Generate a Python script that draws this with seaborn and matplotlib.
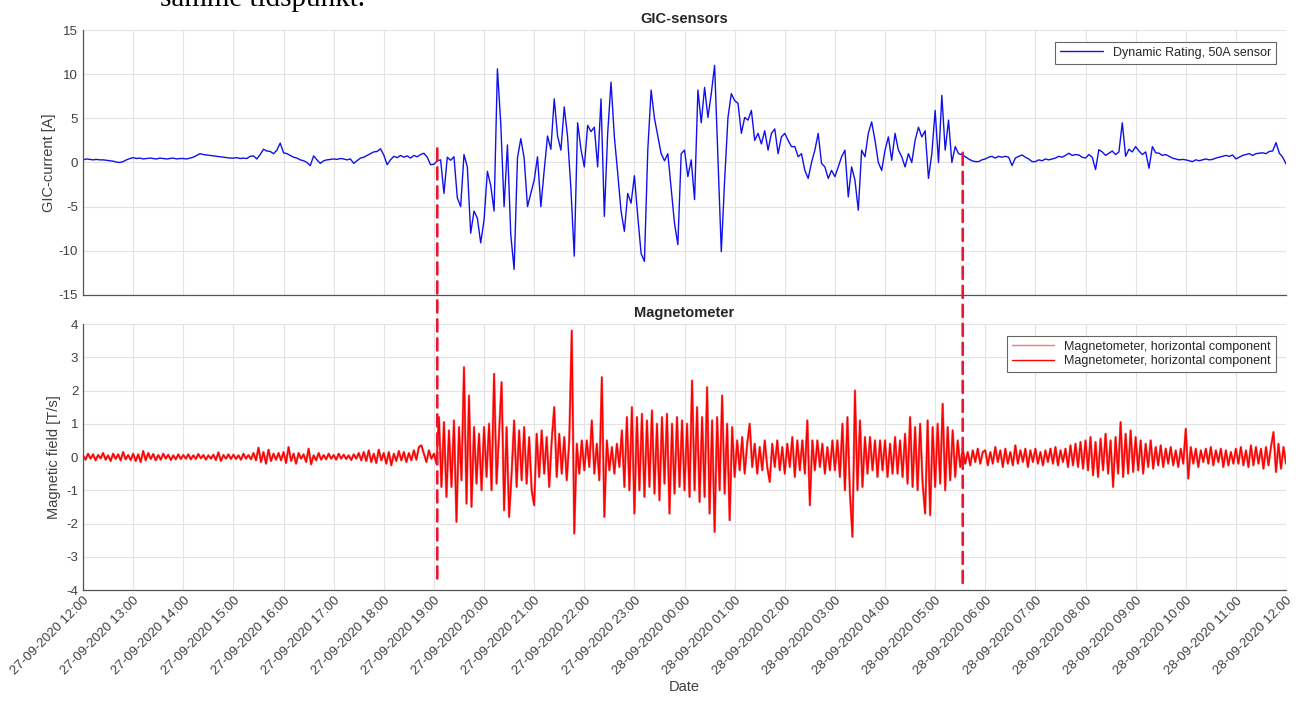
"""GIC-sensor current and magnetometer rate of change, 27-28 Sep 2020."""
import matplotlib
matplotlib.use("Agg")
import matplotlib.pyplot as plt
import matplotlib.dates as mdates
from matplotlib.patches import ConnectionPatch
import numpy as np
import pandas as pd
import seaborn as sns

# GIC current [A], one value every 4 minutes from 27-09-2020 12:00 (15 per hour)
gic_current = [
    # 12:00
    0.3, 0.4, 0.35, 0.3, 0.35, 0.3, 0.3, 0.25, 0.2, 0.15, 0.05, 0.0, 0.1, 0.3, 0.45,
    # 13:00
    0.55, 0.45, 0.5, 0.4, 0.45, 0.5, 0.45, 0.4, 0.5, 0.45, 0.4, 0.45, 0.5, 0.4, 0.45,
    # 14:00
    0.45, 0.4, 0.5, 0.6, 0.8, 1.0, 0.9, 0.85, 0.8, 0.75, 0.7, 0.65, 0.6, 0.55, 0.5,
    # 15:00
    0.5, 0.55, 0.45, 0.5, 0.45, 0.7, 0.75, 0.4, 0.9, 1.5, 1.3, 1.25, 1.0, 1.4, 2.2,
    # 16:00
    1.1, 1.0, 0.8, 0.6, 0.5, 0.3, 0.2, 0.0, -0.35, 0.75, 0.3, -0.1, 0.2, 0.3, 0.35,
    # 17:00
    0.4, 0.35, 0.45, 0.4, 0.3, 0.4, -0.1, 0.2, 0.5, 0.6, 0.8, 1.0, 1.2, 1.25, 1.55,
    # 18:00
    0.85, -0.25, 0.3, 0.7, 0.55, 0.8, 0.6, 0.75, 0.5, 0.8, 0.65, 0.9, 1.05, 0.6, -0.25,
    # 19:00
    -0.2, 0.2, 0.3, -3.5, 0.6, 0.25, 0.65, -4.0, -5.0, 0.9, -0.5, -8.0, -5.5, -6.3, -9.1,
    # 20:00
    -6.5, -1.0, -2.6, -5.5, 10.6, 4.4, -5.0, 2.0, -8.2, -12.1, 0.5, 2.7, 0.5, -5.0, -3.5,
    # 21:00
    -2.0, 0.65, -5.0, -0.9, 3.0, 1.5, 7.2, 3.0, 1.4, 6.3, 2.9, -3.0, -10.6, 4.5, 1.5,
    # 22:00
    -0.5, 4.2, 3.5, 4.0, -0.5, 7.2, -6.1, 3.3, 9.1, 2.9, -1.2, -5.5, -7.8, -3.5, -4.6,
    # 23:00
    -1.5, -6.1, -10.3, -11.2, 1.4, 8.2, 5.0, 3.0, 1.0, 0.2, 1.0, -3.0, -6.9, -9.3, 1.0,
    # 00:00
    1.4, -1.6, 0.3, -4.2, 8.2, 4.5, 8.5, 5.1, 7.8, 11.0, 0.5, -10.1, -2.0, 5.1, 7.8,
    # 01:00
    7.0, 6.7, 3.3, 5.1, 4.8, 5.9, 2.5, 3.3, 2.1, 3.6, 1.4, 3.3, 3.8, 1.0, 2.9,
    # 02:00
    3.3, 2.5, 1.8, 1.8, 0.65, 1.0, -0.9, -1.8, 0.0, 1.4, 3.3, -0.1, -0.5, -1.8, -0.9,
    # 03:00
    -1.6, -0.5, 0.65, 1.4, -3.9, -0.5, -2.0, -5.4, 1.4, 0.65, 3.3, 4.6, 2.5, 0.0, -0.9,
    # 04:00
    1.4, 2.9, 0.25, 3.3, 1.4, 0.65, -0.5, 1.0, 0.0, 2.5, 4.0, 2.9, 3.6, -1.8, 1.0,
    # 05:00
    5.9, 0.0, 7.6, 1.4, 4.8, 0.0, 1.8, 1.0, 0.9, 0.65, 0.4, 0.2, 0.1, 0.1, 0.3,
    # 06:00
    0.4, 0.6, 0.7, 0.5, 0.7, 0.6, 0.7, 0.6, -0.35, 0.5, 0.7, 0.85, 0.6, 0.4, 0.1,
    # 07:00
    0.1, 0.3, 0.2, 0.4, 0.3, 0.4, 0.5, 0.7, 0.6, 0.8, 1.05, 0.8, 0.9, 0.85, 0.6,
    # 08:00
    0.5, 0.9, 0.6, -0.8, 1.45, 1.2, 0.8, 1.05, 1.3, 0.9, 1.2, 4.5, 0.7, 1.5, 1.2,
    # 09:00
    1.8, 1.3, 0.9, 1.2, -0.65, 1.8, 1.1, 1.05, 0.8, 0.9, 0.7, 0.5, 0.4, 0.3, 0.35,
    # 10:00
    0.3, 0.2, 0.1, 0.3, 0.2, 0.3, 0.4, 0.3, 0.35, 0.5, 0.6, 0.7, 0.8, 0.7, 0.85,
    # 11:00
    0.4, 0.6, 0.8, 0.9, 1.0, 0.8, 1.0, 1.05, 1.1, 1.0, 1.25, 1.3, 2.25, 1.05, 0.6,
    # 12:00
    -0.15,
]

# magnetometer, horizontal component [T/s], one value every 3 minutes (20 per hour)
mag_field = [
    # 12:00
    0.05, -0.08, 0.1, -0.05, 0.08, -0.1, 0.06, -0.04, 0.12, -0.08, 0.05, -0.12, 0.1, -0.06, 0.08, -0.1, 0.15, -0.07, 0.06, -0.09,
    # 13:00
    0.1, -0.12, 0.08, -0.15, 0.18, -0.1, 0.12, -0.06, 0.09, -0.1, 0.06, -0.08, 0.1, -0.05, 0.07, -0.09, 0.05, -0.07, 0.08, -0.06,
    # 14:00
    0.06, -0.05, 0.08, -0.07, 0.05, -0.06, 0.09, -0.04, 0.06, -0.08, 0.05, -0.05, 0.07, -0.09, 0.14, -0.12, 0.06, -0.05, 0.08, -0.06,
    # 15:00
    0.07, -0.06, 0.05, -0.08, 0.1, -0.05, 0.06, -0.07, 0.12, -0.1, 0.28, -0.15, 0.15, -0.2, 0.22, -0.12, 0.1, -0.08, 0.12, -0.1,
    # 16:00
    0.15, -0.18, 0.3, -0.12, 0.1, -0.2, 0.12, -0.05, 0.08, -0.15, 0.25, -0.22, 0.05, -0.1, 0.12, -0.08, 0.06, -0.07, 0.1, -0.05,
    # 17:00
    0.06, -0.08, 0.1, -0.05, 0.07, -0.06, 0.05, -0.09, 0.08, -0.05, 0.12, -0.1, 0.15, -0.12, 0.2, -0.15, 0.1, -0.18, 0.22, -0.1,
    # 18:00
    0.12, -0.2, 0.15, -0.25, 0.1, -0.12, 0.18, -0.1, 0.15, -0.15, 0.12, -0.1, 0.2, -0.08, 0.3, 0.35, 0.1, -0.15, 0.2, -0.05,
    # 19:00
    0.1, -0.2, 1.2, -0.9, 1.05, -1.2, 0.8, -0.9, 1.1, -1.95, 0.9, -0.7, 2.7, -1.4, 1.85, -1.5, 0.9, -0.8, 0.7, -1.0,
    # 20:00
    0.9, -0.6, 1.0, -1.0, 2.5, -0.8, 0.7, 2.25, -1.6, 0.9, -1.8, -0.5, 1.1, -0.9, 0.8, -0.7, 0.9, -0.8, 0.6, -1.0,
    # 21:00
    -1.45, 0.7, -0.6, 0.8, -0.5, 0.6, -0.9, 0.5, 1.5, -0.6, 0.7, -0.5, 0.6, -0.7, 0.5, 3.8, -2.3, 0.4, -0.5, 0.5,
    # 22:00
    -0.4, 0.5, -0.3, 1.1, -0.5, 0.4, -0.7, 2.4, -1.8, 0.5, -0.4, 0.3, -0.5, 0.4, -0.3, 0.8, -0.9, 1.2, -1.0, 1.5,
    # 23:00
    -1.7, 1.2, -1.0, 1.3, -1.2, 1.1, -0.9, 1.4, -1.1, 1.0, -1.3, 1.2, -0.8, 1.3, -1.7, 1.0, -1.1, 1.2, -0.9, 1.1,
    # 00:00
    -1.0, 1.0, -1.2, 2.3, -1.0, 1.5, -1.35, 1.2, -1.2, 2.1, -1.7, 1.1, -2.25, 1.2, -1.0, 1.85, -1.1, 1.0, -1.9, 0.9,
    # 01:00
    -0.6, 0.5, -0.4, 0.6, -0.5, 0.4, 1.0, -0.3, 0.4, -0.5, 0.3, -0.4, 0.5, -0.3, -0.75, 0.4, -0.3, 0.5, -0.4, 0.3,
    # 02:00
    -0.5, 0.4, -0.3, 0.6, -0.6, 0.5, -0.4, 0.5, -0.5, 1.1, -1.45, 0.5, -0.4, 0.5, -0.3, 0.4, -0.5, 0.3, -0.4, 0.5,
    # 03:00
    -0.4, 0.5, -0.6, 1.0, -1.0, 1.2, -1.1, -2.4, 2.0, -1.0, 1.1, -0.9, 0.6, -0.5, 0.6, -0.4, 0.5, -0.6, 0.5, -0.4,
    # 04:00
    0.5, -0.6, 0.4, -0.5, 0.6, -0.5, 0.5, -0.6, 0.7, -0.8, 1.2, -0.9, 0.9, -1.0, 1.0, -0.8, -1.7, 1.1, -1.75, 0.9,
    # 05:00
    -0.9, 1.0, -0.8, 1.6, -1.0, 0.9, -0.7, 0.8, -0.6, 0.5, -0.3, 0.25, -0.2, 0.15, -0.25, 0.2, -0.15, 0.25, -0.2, 0.15,
    # 06:00
    0.2, -0.25, 0.15, -0.2, 0.3, -0.15, 0.2, -0.3, 0.25, -0.2, 0.15, -0.25, 0.35, -0.2, 0.2, -0.15, 0.25, -0.3, 0.2, -0.15,
    # 07:00
    0.25, -0.2, 0.15, -0.25, 0.2, -0.15, 0.25, -0.2, 0.3, -0.25, 0.2, -0.15, 0.25, -0.3, 0.35, -0.25, 0.4, -0.3, 0.45, -0.35,
    # 08:00
    0.5, -0.4, 0.6, -0.55, 0.45, -0.6, 0.55, -0.4, 0.7, -0.5, 0.5, -0.9, 0.6, -0.5, 1.05, -0.6, 0.7, -0.5, 0.8, -0.45,
    # 09:00
    0.6, -0.4, 0.5, -0.5, 0.4, -0.3, 0.5, -0.35, 0.3, -0.25, 0.35, -0.3, 0.25, -0.2, 0.3, -0.25, 0.2, -0.3, 0.25, -0.2,
    # 10:00
    0.85, -0.65, 0.3, -0.2, 0.25, -0.3, 0.2, -0.15, 0.25, -0.2, 0.3, -0.25, 0.2, -0.15, 0.25, -0.3, 0.2, -0.25, 0.15, -0.2,
    # 11:00
    0.25, -0.2, 0.3, -0.25, 0.2, -0.3, 0.35, -0.25, 0.3, -0.2, 0.25, -0.35, 0.3, -0.25, 0.3, 0.75, -0.45, 0.4, -0.35, 0.3,
    # 12:00
    -0.2,
]

start_time = "2020-09-27 12:00"
end_time = "2020-09-28 12:00"
# storm window marked with the red dashed lines
event_start = "2020-09-27 19:04"
event_end = "2020-09-28 05:33"

gic_df = pd.DataFrame({
    "time": pd.date_range(start_time, periods=len(gic_current), freq="4min"),
    "current": gic_current,
})
mag_df = pd.DataFrame({
    "time": pd.date_range(start_time, periods=len(mag_field), freq="3min"),
    "field": mag_field,
})

sns.set_theme(style="whitegrid")
plt.rcParams["font.family"] = ["Liberation Sans", "DejaVu Sans"]
plt.rcParams["axes.unicode_minus"] = False
text_col = "#404040"

fig = plt.figure(figsize=(13.06, 7.03), dpi=100)
ax1 = fig.add_axes([0.0636, 0.5804, 0.9211, 0.3769])
ax2 = fig.add_axes([0.0636, 0.1607, 0.9211, 0.3784])

sns.lineplot(data=gic_df, x="time", y="current", ax=ax1, color="#1010ee",
             linewidth=1.0, label="Dynamic Rating, 50A sensor")
sns.lineplot(data=mag_df, x="time", y="field", ax=ax2, color="#f47a7a",
             linewidth=1.7, label="Magnetometer, horizontal component")
sns.lineplot(data=mag_df, x="time", y="field", ax=ax2, color="#ff0000",
             linewidth=1.05, label="Magnetometer, horizontal component")

for ax in (ax1, ax2):
    ax.set_facecolor("white")
    ax.set_xlim(pd.Timestamp(start_time), pd.Timestamp(end_time))
    ax.xaxis.set_major_locator(mdates.HourLocator(interval=1))
    ax.xaxis.set_major_formatter(mdates.DateFormatter("%d-%m-%Y %H:%M"))
    ax.grid(True, color="#e3e3e3", linewidth=0.8)
    for side in ("top", "right"):
        ax.spines[side].set_visible(False)
    for side in ("left", "bottom"):
        ax.spines[side].set_color("#555555")
        ax.spines[side].set_linewidth(0.9)
    ax.tick_params(axis="both", direction="in", length=8, width=0.8,
                   color="#555555", labelcolor=text_col, labelsize=9.5)
    ax.tick_params(axis="y", length=6)
    leg = ax.legend(loc="upper right", fontsize=9, fancybox=False,
                    edgecolor="#666666", framealpha=1, borderpad=0.4,
                    handlelength=3.4, labelspacing=0.2,
                    bbox_to_anchor=(0.9967, 0.98))
    leg.get_frame().set_linewidth(0.8)
    for handle in leg.get_lines():
        handle.set_linewidth(1.0)

ax1.set_ylim(-15, 15)
ax1.set_yticks(np.arange(-15, 16, 5))
ax1.tick_params(axis="x", labelbottom=False)
ax1.set_xlabel("")
ax1.set_ylabel("GIC-current [A]", fontsize=10.5, color=text_col)
ax1.set_title("GIC-sensors", fontsize=10.5, fontweight="bold", pad=5)

ax2.set_ylim(-4, 4)
ax2.set_yticks(np.arange(-4, 5, 1))
ax2.set_ylabel("Magnetic field [T/s]", fontsize=10.5, color=text_col)
ax2.set_xlabel("Date", fontsize=10.5, color=text_col, labelpad=2)
ax2.set_title("Magnetometer", fontsize=10.5, fontweight="bold", pad=5)
for lbl in ax2.get_xticklabels():
    lbl.set_rotation(45)
    lbl.set_ha("right")
    lbl.set_va("top")
    lbl.set_rotation_mode("anchor")

ax1.yaxis.set_label_coords(-0.0225, 0.5)
ax2.yaxis.set_label_coords(-0.0185, 0.5)

# dashed red markers spanning both panels
for when, y_top, y_bot in ((event_start, 1.6, -3.8), (event_end, 1.1, -3.95)):
    xnum = mdates.date2num(pd.Timestamp(when))
    con = ConnectionPatch(xyA=(xnum, y_top), coordsA=ax1.transData,
                          xyB=(xnum, y_bot), coordsB=ax2.transData,
                          color="#ee1530", linewidth=1.9,
                          linestyle=(0, (4.6, 2.6)), zorder=10)
    fig.add_artist(con)

# tail of the surrounding document text, cut off by the page crop as in the source
fig.text(0.1225, 0.9915, "samme tidspunkt.", family="Liberation Serif",
         fontsize=21, color="black", va="baseline", ha="left")

fig.savefig("out.png", dpi=100)
